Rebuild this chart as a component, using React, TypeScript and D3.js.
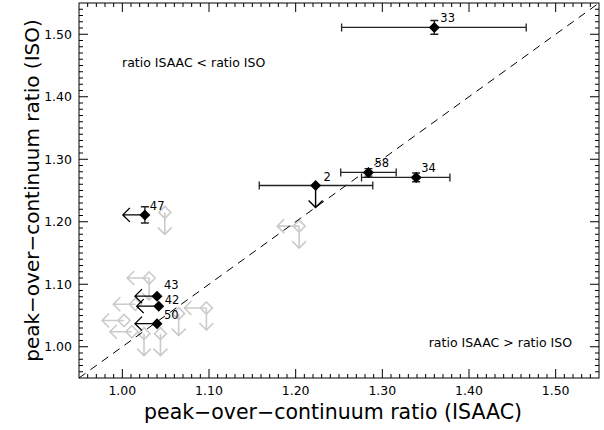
import React from "react";
import * as d3 from "d3";

// ---- data ----
const blackIds = ["33", "34", "58", "2", "47", "43", "42", "50"];
const blackX = [1.360, 1.339, 1.284, 1.223, 1.026, 1.040, 1.042, 1.040];
const blackY = [1.511, 1.271, 1.279, 1.258, 1.211, 1.081, 1.065, 1.037];
const blackXLo = [1.253, 1.276, 1.252, 1.158, null, null, null, null];
const blackXHi = [1.466, 1.378, 1.316, 1.289, null, null, null, null];
const blackYLo = [1.500, 1.264, 1.273, null, 1.198, null, null, null];
const blackYHi = [1.522, 1.278, 1.285, null, 1.224, null, null, null];
// limit flags: "L" = upper limit in ISAAC (left arrow), "D" = upper limit in ISO (down arrow)
const blackLimit = ["", "", "", "D", "L", "L", "L", "L"];

const grayX = [1.049, 1.204, 1.031, 1.015, 1.002, 1.011, 1.044, 1.025, 1.065, 1.097];
const grayY = [1.215, 1.193, 1.110, 1.068, 1.042, 1.024, 1.021, 1.021, 1.053, 1.062];
const grayLimit = ["D", "LD", "LD", "L", "L", "L", "D", "D", "D", "LD"];

const ticks = [1.0, 1.1, 1.2, 1.3, 1.4, 1.5];
const tickLabels = ["1.00", "1.10", "1.20", "1.30", "1.40", "1.50"];
const domain = [0.95, 1.55];

// label offsets (layout only)
const labelOffsets: Record<string, [number, number]> = {
  "33": [6, -5], "34": [5, -5], "58": [6, -5], "2": [8, -5],
  "47": [5, -5], "43": [7, -7], "42": [6, -2.5], "50": [7, -5],
};

const W = 604, H = 430;
const M = { left: 79, right: 599, top: 3, bottom: 378 };
const FONT = "'DejaVu Sans', sans-serif";
const GRAY = "#cbcbcb";

export default function App() {
  const x = d3.scaleLinear().domain(domain).range([M.left, M.right]);
  const y = d3.scaleLinear().domain(domain).range([M.bottom, M.top]);
  const minor = d3.range(96, 155).map((v) => v / 100);
  const AL = 22; // arrow length
  const AH = 7; // arrow head

  const arrows = (cx: number, cy: number, flag: string, color: string, sw: number, key: string) => {
    const out: React.ReactNode[] = [];
    if (flag.includes("L")) {
      const ex = cx - AL;
      out.push(
        <path key={key + "L"} d={`M${cx},${cy}H${ex}M${ex + AH},${cy - AH}L${ex},${cy}L${ex + AH},${cy + AH}`}
          fill="none" stroke={color} strokeWidth={sw} />
      );
    }
    if (flag.includes("D")) {
      const ey = cy + AL;
      out.push(
        <path key={key + "D"} d={`M${cx},${cy}V${ey}M${cx - AH},${ey - AH}L${cx},${ey}L${cx + AH},${ey - AH}`}
          fill="none" stroke={color} strokeWidth={sw} />
      );
    }
    return out;
  };

  const diamond = (cx: number, cy: number, r: number) =>
    `M${cx},${cy - r}L${cx + r},${cy}L${cx},${cy + r}L${cx - r},${cy}Z`;

  return (
    <svg width={W} height={H} style={{ position: "absolute", left: 0, top: 0, background: "#fff" }}
      fontFamily={FONT}>
      <rect x={0} y={0} width={W} height={H} fill="#fff" />
      {/* gray points */}
      {grayX.map((gx, i) => {
        const cx = x(gx), cy = y(grayY[i]);
        return (
          <g key={"g" + i}>
            {arrows(cx, cy, grayLimit[i], GRAY, 1.6, "g" + i)}
            <path d={diamond(cx, cy, 6)} fill="none" stroke={GRAY} strokeWidth={1.6} />
          </g>
        );
      })}
      {/* diagonal */}
      <line x1={x(domain[0])} y1={y(domain[0])} x2={x(domain[1])} y2={y(domain[1])}
        stroke="#000" strokeWidth={1} strokeDasharray="8,6" />
      {/* black points */}
      {blackX.map((bx, i) => {
        const cx = x(bx), cy = y(blackY[i]);
        const xl = blackXLo[i], xh = blackXHi[i], yl = blackYLo[i], yh = blackYHi[i];
        const [dx, dy] = labelOffsets[blackIds[i]];
        return (
          <g key={"b" + i}>
            {xl != null && xh != null && (
              <path d={`M${x(xl)},${cy}H${x(xh)}M${x(xl)},${cy - 4}V${cy + 4}M${x(xh)},${cy - 4}V${cy + 4}`}
                stroke="#222" strokeWidth={1.3} fill="none" />
            )}
            {yl != null && yh != null && (
              <path d={`M${cx},${y(yl)}V${y(yh)}M${cx - 4},${y(yl)}H${cx + 4}M${cx - 4},${y(yh)}H${cx + 4}`}
                stroke="#222" strokeWidth={1.3} fill="none" />
            )}
            {arrows(cx, cy, blackLimit[i], "#000", 1.4, "b" + i)}
            <path d={diamond(cx, cy, 5.5)} fill="#000" />
            <text x={cx + dx} y={cy + dy} fontSize={11.5} fill="#000">{blackIds[i]}</text>
          </g>
        );
      })}
      {/* frame */}
      <rect x={M.left} y={M.top} width={M.right - M.left} height={M.bottom - M.top}
        fill="none" stroke="#000" strokeWidth={1} />
      {/* ticks */}
      {minor.map((v) => {
        const isMajor = Math.abs(v * 10 - Math.round(v * 10)) < 1e-6;
        const lx = isMajor ? 9 : 4;
        return (
          <g key={"t" + v} stroke="#000" strokeWidth={1}>
            <line x1={x(v)} x2={x(v)} y1={M.bottom} y2={M.bottom - lx} />
            <line x1={x(v)} x2={x(v)} y1={M.top} y2={M.top + lx} />
            <line y1={y(v)} y2={y(v)} x1={M.left} x2={M.left + lx} />
            <line y1={y(v)} y2={y(v)} x1={M.right} x2={M.right - lx} />
          </g>
        );
      })}
      {ticks.map((t, i) => (
        <g key={"l" + t} fontSize={12.5} fill="#000">
          <text x={x(t)} y={M.bottom + 17} textAnchor="middle">{tickLabels[i]}</text>
          <text x={M.left - 7} y={y(t) + 4.5} textAnchor="end">{tickLabels[i]}</text>
        </g>
      ))}
      {/* axis titles */}
      <text x={333} y={419} textAnchor="middle" fontSize={20.5} fill="#000">
        peak−over−continuum ratio (ISAAC)
      </text>
      <text transform={`translate(39,${(M.top + M.bottom) / 2}) rotate(-90)`} textAnchor="middle"
        fontSize={20} fill="#000">
        peak−over−continuum ratio (ISO)
      </text>
      {/* annotations */}
      <text x={122} y={67} fontSize={12.5} fill="#000">ratio ISAAC &lt; ratio ISO</text>
      <text x={572} y={347} fontSize={12.5} textAnchor="end" fill="#000">ratio ISAAC &gt; ratio ISO</text>
    </svg>
  );
}
